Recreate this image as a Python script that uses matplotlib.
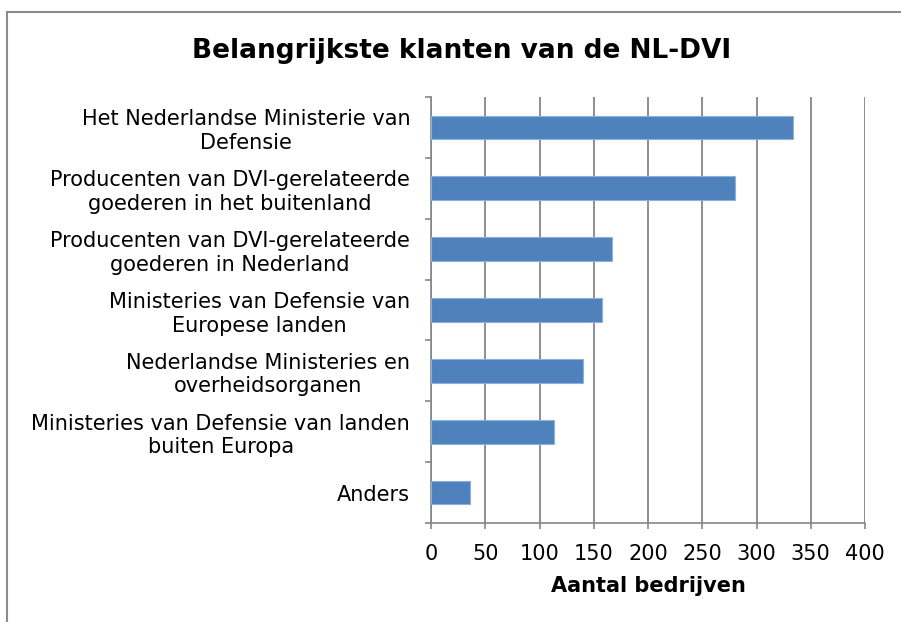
import numpy as np
import matplotlib.pyplot as plt
from matplotlib.lines import Line2D

categorieen = [
    "Het Nederlandse Ministerie van\nDefensie",
    "Producenten van DVI-gerelateerde\ngoederen in het buitenland",
    "Producenten van DVI-gerelateerde\ngoederen in Nederland",
    "Ministeries van Defensie van\nEuropese landen",
    "Nederlandse Ministeries en\noverheidsorganen",
    "Ministeries van Defensie van landen\nbuiten Europa",
    "Anders",
]
aantallen = [334, 280, 167, 158, 140, 113, 36]
xticks = [0, 50, 100, 150, 200, 250, 300, 350, 400]

fig = plt.figure(figsize=(9.01, 6.22), dpi=100)
ax = fig.add_axes([431/901, 1 - 523/622, 434/901, 426/622])

n = len(categorieen)
y = np.arange(n)[::-1]
ax.barh(y, aantallen, height=0.39, color='#4F81BD', edgecolor='#8DB0DC', linewidth=0.8, zorder=3)

ax.set_xlim(0, 400)
ax.set_ylim(-0.5, n - 0.5)
ax.set_xticks(xticks)
ax.set_xticklabels([str(v) for v in xticks], fontsize=15)
ax.set_yticks(y)
ax.set_yticklabels(categorieen, fontsize=15)
for t in ax.get_yticklabels():
    t.set_multialignment('center')
    t.set_linespacing(1.22)
ax.set_yticks(np.arange(n + 1) - 0.5, minor=True)

ax.tick_params(axis='y', which='major', length=0, pad=15)
ax.tick_params(axis='y', which='minor', length=4, width=1.2, color='#868686', direction='out')
ax.tick_params(axis='x', length=4, width=1.2, color='#868686', pad=11)

ax.grid(axis='x', color='#868686', linewidth=1.3, zorder=0)
for s in ['top', 'right']:
    ax.spines[s].set_visible(False)
for s in ['left', 'bottom']:
    ax.spines[s].set_color('#868686')
    ax.spines[s].set_linewidth(1.2)

ax.set_xlabel('Aantal bedrijven', fontsize=15, fontweight='bold', labelpad=9)
fig.text(462/901, 1 - 58/622, 'Belangrijkste klanten van de NL-DVI', fontsize=19,
         fontweight='bold', ha='center', va='baseline')

# kaderlijnen
fig.add_artist(Line2D([7/901, 7/901], [0, 1 - 12/622], color='#8c8c8c', linewidth=1.5, transform=fig.transFigure))
fig.add_artist(Line2D([7/901, 1], [1 - 12/622, 1 - 12/622], color='#8c8c8c', linewidth=1.5, transform=fig.transFigure))

fig.savefig('out.png', dpi=100)
